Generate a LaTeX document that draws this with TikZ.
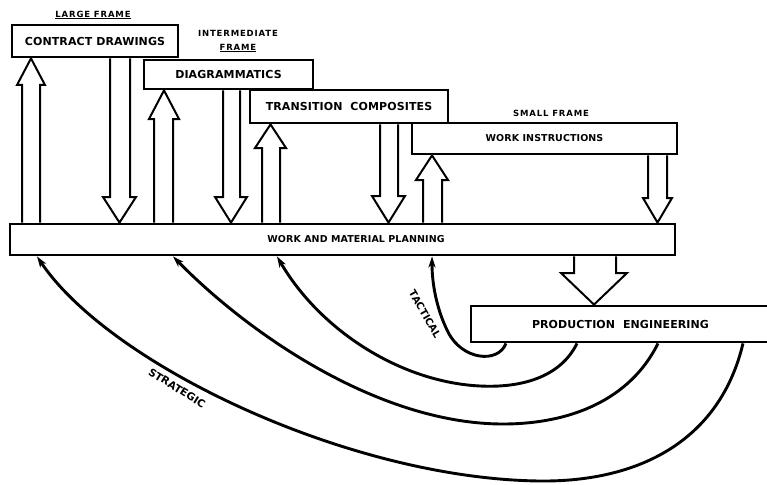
\documentclass[tikz,border=0pt]{standalone}
\usepackage{fontspec}
\setmainfont{DejaVu Sans}
\newfontfamily\boxfont[LetterSpace=1]{DejaVu Sans}
\newfontfamily\tagfont[LetterSpace=10]{DejaVu Sans}
\newfontfamily\rotfont{DejaVu Sans}
\usetikzlibrary{arrows.meta}
\begin{document}
\begin{tikzpicture}[x=1pt,y=-1pt,
  box/.style={draw,line width=2.8pt,inner sep=0pt,fill=white,
    font=\boxfont\bfseries\fontsize{11}{13}\selectfont},
  smallbox/.style={box,font=\boxfont\bfseries\fontsize{9.5}{11}\selectfont},
  blk/.style={draw,line width=2pt,fill=white,line join=miter},
  arcline/.style={line width=2.9pt,-{Stealth[length=11pt,width=7pt,inset=3pt]}},
  tag/.style={font=\tagfont\bfseries\fontsize{8.5}{10}\selectfont,inner sep=0pt},
  rottag/.style={font=\rotfont\bfseries\fontsize{10}{12}\selectfont,inner sep=0pt}]
\useasboundingbox (0,0) rectangle (767,484);
\clip (0,0) rectangle (767,484);
% boxes
\node[box,minimum width=166pt,minimum height=32pt] (cd) at (95,41) {CONTRACT DRAWINGS};
\node[box,minimum width=169pt,minimum height=29pt] (dg) at (228.5,74.5) {DIAGRAMMATICS};
\node[box,minimum width=198pt,minimum height=33pt] (tc) at (349,106.5) {TRANSITION\ \ COMPOSITES};
\node[smallbox,minimum width=265pt,minimum height=31pt] (wi) at (544.5,138.5) {WORK INSTRUCTIONS};
\node[smallbox,minimum width=665pt,minimum height=31pt] (wmp) at (342.5,239.5) {\hspace*{27pt}WORK AND MATERIAL PLANNING};
\node[box,minimum width=299pt,minimum height=36pt] (pe) at (620.5,324) {PRODUCTION\ \ ENGINEERING};
% frame labels
\node[tag] (lf) at (93,15) {\underline{LARGE FRAME}};
\node[tag] (imf1) at (238,33) {INTERMEDIATE};
\node[tag] (imf2) at (238,48) {\underline{FRAME}};
\node[tag] (sf) at (551,113) {SMALL FRAME};
% up block arrows
\draw[blk] (22,0 |- wmp.north) -- (22,85) -- (17,85) -- (31,0 |- cd.south) -- (45,85) -- (40,85) -- (40,0 |- wmp.north);
\draw[blk] (154,0 |- wmp.north) -- (154,119) -- (149,119) -- (164,0 |- dg.south) -- (179,119) -- (173,119) -- (173,0 |- wmp.north);
\draw[blk] (262,0 |- wmp.north) -- (262,148) -- (255,148) -- (270.5,0 |- tc.south) -- (286,148) -- (280,148) -- (280,0 |- wmp.north);
\draw[blk] (423,0 |- wmp.north) -- (423,180) -- (416,180) -- (432,0 |- wi.south) -- (448,180) -- (442,180) -- (442,0 |- wmp.north);
% down block arrows
\draw[blk] (110,0 |- cd.south) -- (110,197) -- (103,197) -- (119.5,0 |- wmp.north) -- (136,197) -- (130,197) -- (130,0 |- cd.south);
\draw[blk] (223,0 |- dg.south) -- (223,197) -- (215,197) -- (231,0 |- wmp.north) -- (247,197) -- (240,197) -- (240,0 |- dg.south);
\draw[blk] (380,0 |- tc.south) -- (380,196) -- (372,196) -- (388.5,0 |- wmp.north) -- (405,196) -- (398,196) -- (398,0 |- tc.south);
\draw[blk] (648,0 |- wi.south) -- (648,198) -- (643,198) -- (657.5,0 |- wmp.north) -- (672,198) -- (667,198) -- (667,0 |- wi.south);
\draw[blk] (574,0 |- wmp.south) -- (574,273) -- (561,273) -- (594,0 |- pe.north) -- (627,273) -- (616,273) -- (616,0 |- wmp.south);
% feedback curves
\draw[arcline] (506,0 |- pe.south) .. controls (498,364) and (462,360) .. (448,332)
  .. controls (437,310) and (432,285) .. (432,0 |- wmp.south);
\draw[arcline] (577,0 |- pe.south) .. controls (560,378) and (520,388) .. (480,386)
  .. controls (400,382) and (320,330) .. (277,0 |- wmp.south);
\draw[arcline] (658,0 |- pe.south) .. controls (630,400) and (570,424) .. (503,424)
  .. controls (380,424) and (250,335) .. (173,0 |- wmp.south);
\draw[arcline] (743,0 |- pe.south) .. controls (720,440) and (640,482) .. (540,481)
  .. controls (350,479) and (110,365) .. (37,0 |- wmp.south);
\node[rottag,rotate=-60] (tact) at (425,314) {TACTICAL};
\node[rottag,rotate=-32,font=\rotfont\bfseries\fontsize{10.5}{12}\selectfont] (strat) at (177,388) {STRATEGIC};
\end{tikzpicture}
\end{document}
